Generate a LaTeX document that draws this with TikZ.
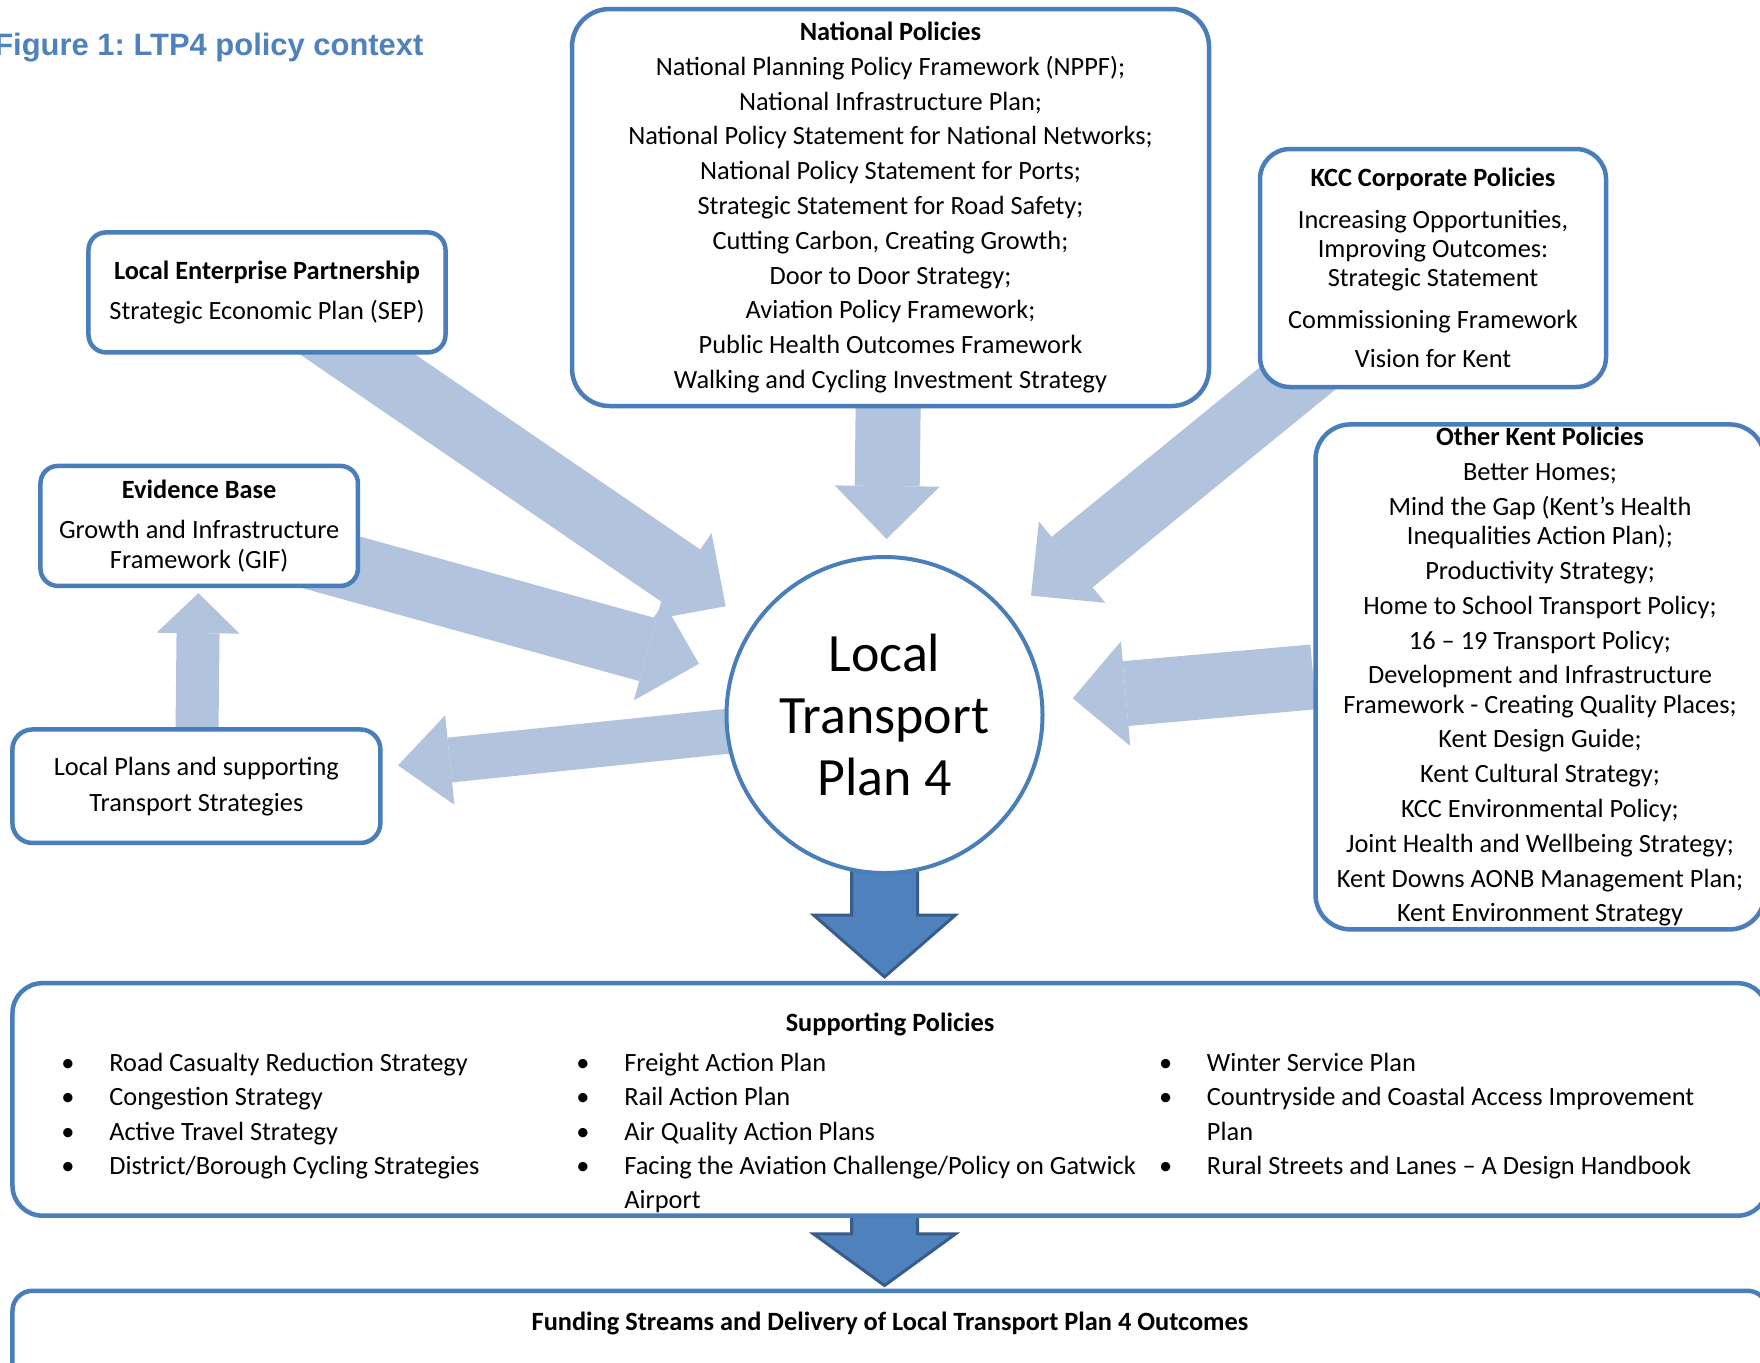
\documentclass[tikz,border=0pt]{standalone}
\usepackage{fontspec}
\setmainfont{Carlito}
\newfontfamily\headfont{Liberation Sans}
\usetikzlibrary{positioning,calc,arrows.meta,backgrounds}
\definecolor{kentblue}{RGB}{74,126,187}
\definecolor{palearrow}{RGB}{178,195,222}
\definecolor{deepfill}{RGB}{79,129,189}
\definecolor{deepedge}{RGB}{56,93,138}
\newcommand*{\hd}[1]{\textbf{#1}}
\newcommand*{\pskip}{\\[3.2pt]}
\newcommand*{\bul}{\llap{\makebox[47pt]{\textbullet}}}
\frenchspacing

\begin{document}
\begin{tikzpicture}[x=0.2mm,y=-0.2mm,
  policy/.style={draw=kentblue,line width=0.9mm,fill=white,align=center,
    rounded corners=#1,font=\fontsize{15}{16.6}\selectfont},
  policy/.default=3.5mm,
  listcol/.style={anchor=base west,inner sep=0pt,
    font=\fontsize{15}{19.5}\selectfont},
  bigfeed/.style={draw=palearrow,line width=13mm,
    -{Triangle[length=10.6mm,width=21mm,line width=0pt]}},
  midfeed/.style={draw=palearrow,line width=9mm,
    -{Triangle[length=10.4mm,width=18mm,line width=0pt]}},
  smallfeed/.style={draw=palearrow,line width=8.6mm,
    -{Triangle[length=8mm,width=16.6mm,line width=0pt]}},
  deeparrow/.style={fill=deepfill,draw=deepedge,line width=0.6mm,line join=miter}]
\useasboundingbox (0,0) rectangle (1760,1362);
% Caption
\node[anchor=base west,inner sep=0pt,text=deepfill,
  font=\headfont\fontsize{17.6}{21}\selectfont\bfseries\frenchspacing] (caption) at (-6,55)
  {Figure 1: LTP4 policy context};
% The plan in the middle
\node[circle,draw=kentblue,line width=0.8mm,fill=white,minimum size=63.2mm,
  align=center,font=\fontsize{30.7}{35.1}\selectfont] (ltp) at (884.5,715)
  {Local\\Transport\\Plan 4};
% Policy boxes round it
\node[policy=7.5mm,minimum width=127.4mm,minimum height=79.4mm] (np) at (890.5,207.5)
  {\hd{National Policies}\pskip
   National Planning Policy Framework (NPPF);\pskip
   National Infrastructure Plan;\pskip
   National Policy Statement for National Networks;\pskip
   National Policy Statement for Ports;\pskip
   Strategic Statement for Road Safety;\pskip
   Cutting Carbon, Creating Growth;\pskip
   Door to Door Strategy;\pskip
   Aviation Policy Framework;\pskip
   Public Health Outcomes Framework\pskip
   Walking and Cycling Investment Strategy};
\node[policy=6mm,minimum width=69.2mm,minimum height=47.6mm] (kcc) at (1433,268)
  {\hd{KCC Corporate Policies}\\[7pt]
   Increasing Opportunities,\\
   Improving Outcomes:\\
   Strategic Statement\\[7pt]
   Commissioning Framework\\[5.8pt]
   Vision for Kent};
\node[policy,minimum width=71.4mm,minimum height=24mm] (lep) at (267,292.4)
  {\hd{Local Enterprise Partnership}\\[5.8pt]
   Strategic Economic Plan (SEP)};
\node[policy,minimum width=63.5mm,minimum height=24mm] (eb) at (199.2,525.9)
  {\hd{Evidence Base}\\[6.4pt]
   Growth and Infrastructure\\
   Framework (GIF)};
\node[policy=4mm,minimum width=73.6mm,minimum height=22.7mm] (lp) at (196.4,786.2)
  {Local Plans and supporting\\[3.8pt]
   Transport Strategies};
\node[policy=7mm,minimum width=89.8mm,minimum height=101mm,inner sep=1pt] (okp) at (1540,676.9)
  {\hd{Other Kent Policies}\pskip
   Better Homes;\pskip
   Mind the Gap (Kent’s Health\\
   Inequalities Action Plan);\pskip
   Productivity Strategy;\pskip
   Home to School Transport Policy;\pskip
   16 – 19 Transport Policy;\pskip
   Development and Infrastructure\\
   Framework - Creating Quality Places;\pskip
   Kent Design Guide;\pskip
   Kent Cultural Strategy;\pskip
   KCC Environmental Policy;\pskip
   Joint Health and Wellbeing Strategy;\pskip
   Kent Downs AONB Management Plan;\pskip
   Kent Environment Strategy};
% Supporting policies
\node[policy=6mm,minimum width=351mm,minimum height=46.5mm] (sp) at (890,1099.4) {};
\node[anchor=base,font=\fontsize{15}{16.6}\selectfont\bfseries] (sptitle) at (890,1031.7)
  {Supporting Policies};
\node[listcol] (colA) at (109,1071.7)
  {\begin{tabular}[t]{@{}l@{}}
   \bul Road Casualty Reduction Strategy\\
   \bul Congestion Strategy\\
   \bul Active Travel Strategy\\
   \bul District/Borough Cycling Strategies
   \end{tabular}};
\node[listcol] (colB) at (624,1071.7)
  {\begin{tabular}[t]{@{}l@{}}
   \bul Freight Action Plan\\
   \bul Rail Action Plan\\
   \bul Air Quality Action Plans\\
   \bul Facing the Aviation Challenge/Policy on Gatwick\\
   Airport
   \end{tabular}};
\node[listcol] (colC) at (1206.6,1071.7)
  {\begin{tabular}[t]{@{}l@{}}
   \bul Winter Service Plan\\
   \bul Countryside and Coastal Access Improvement\\
   Plan\\
   \bul Rural Streets and Lanes – A Design Handbook
   \end{tabular}};
% Funding
\node[policy=4mm,minimum width=351mm,minimum height=20mm,anchor=north] (fs) at (890,1288.5) {};
\node[anchor=base,font=\fontsize{15}{16.6}\selectfont\bfseries] (fstitle) at (890,1330)
  {Funding Streams and Delivery of Local Transport Plan 4 Outcomes};

\begin{pgfonlayer}{background}
\fill[white] (0,0) rectangle (1760,1362);
% Everything feeds into the plan
\draw[bigfeed,shorten >=6.5mm] (lep.center) -- (ltp);
\draw[bigfeed,shorten >=6.5mm] (eb.center) -- (ltp);
\draw[bigfeed,shorten >=3.2mm] (np.center) -- (ltp);
\draw[bigfeed,shorten >=5.8mm] (kcc.center) -- (ltp);
\draw[bigfeed,shorten >=5.8mm] (okp.west) -- (ltp);
% Plan goes out to the local plans, and back to the evidence
\draw[midfeed,shorten >=3.1mm] (ltp.center) -- (lp);
\draw[smallfeed,shorten >=1mm] (lp.center) -- (eb);
% Down to supporting policies and funding
\draw[deeparrow] ($(ltp.south)+(-33,-20)$) -- ($(ltp.south)+(-33,40)$)
  -- ($(ltp.south)+(-71,40)$) -- ($(ltp.south |- sp.north)+(0,-4)$)
  -- ($(ltp.south)+(71,40)$) -- ($(ltp.south)+(33,40)$)
  -- ($(ltp.south)+(33,-20)$) -- cycle;
\draw[deeparrow] ($(ltp |- sp.south)+(-33,-10)$) -- ($(ltp |- sp.south)+(-33,16)$)
  -- ($(ltp |- sp.south)+(-71,16)$) -- ($(ltp |- fs.north)+(0,-3)$)
  -- ($(ltp |- sp.south)+(71,16)$) -- ($(ltp |- sp.south)+(33,16)$)
  -- ($(ltp |- sp.south)+(33,-10)$) -- cycle;
\end{pgfonlayer}
\end{tikzpicture}
\end{document}
